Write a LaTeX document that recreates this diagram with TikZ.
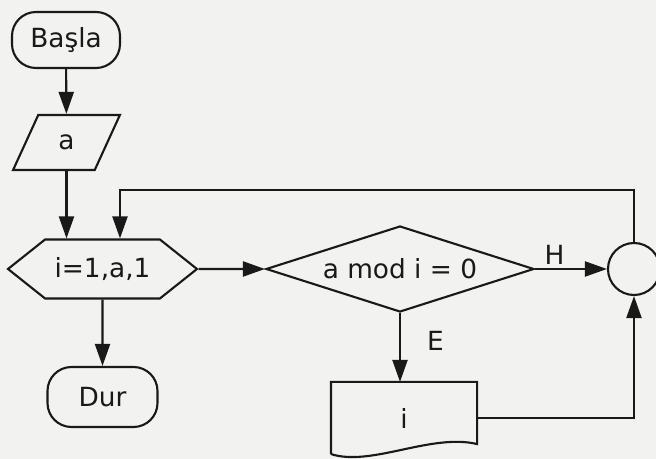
\documentclass[tikz,border=0pt]{standalone}
\usepackage{fontspec}
\setmainfont{DejaVu Sans}
\usepackage{tikz}
\usetikzlibrary{arrows.meta,positioning,calc,shapes.geometric,shapes.symbols}
\definecolor{ink}{RGB}{25,25,25}
\definecolor{paper}{RGB}{242,242,240}
\tikzset{
  flow/.style={draw=ink, line width=1.2pt, font=\fontsize{15}{17}\selectfont, text=ink,
               inner sep=2pt},
  term/.style={flow, rectangle, rounded corners=4.8mm, minimum width=2.16cm,
               minimum height=1.12cm},
  iobox/.style={flow, trapezium, trapezium left angle=65, trapezium right angle=115,
                trapezium stretches=true, minimum width=2.14cm, minimum height=1.1cm},
  loopbox/.style={flow, signal, signal to=west and east, signal pointer angle=77,
                  minimum width=3.78cm, minimum height=1.18cm},
  decision/.style={flow, diamond, aspect=3.1, inner sep=0pt, minimum width=5.36cm,
                   minimum height=1.72cm},
  joint/.style={flow, circle, minimum size=1.04cm},
  docbox/.style={flow, draw=none, rectangle, minimum width=2.88cm, minimum height=1.4cm},
  arrow/.style={-{Triangle[length=4.4mm, width=3mm]}, line width=1.2pt, draw=ink},
  line/.style={line width=1.2pt, draw=ink},
  lbl/.style={font=\fontsize{15}{17}\selectfont, text=ink, inner sep=2pt},
}
\begin{document}
\begin{tikzpicture}

\fill[paper] (0,0) rectangle (13.12,9.18);
\useasboundingbox (0,0) rectangle (13.12,9.18);

% ---------------- left column ----------------
\node[term] (basla) at (1.32,8.38) {Başla};
\node[iobox] (inp) at (1.33,6.33) {a};
\node[loopbox] (loop) at (2.05,3.80) {i=1,a,1};
\node[term, minimum width=2.2cm, minimum height=1.2cm] (dur) at (2.05,1.24) {Dur};

\draw[arrow] (basla) -- (inp);
\draw[arrow] (inp.south) -- (inp.south |- loop.north);
\draw[arrow] (loop) -- (dur);

% ---------------- loop body ----------------
\node[decision] (dec) at (8.00,3.80) {a mod i = 0};
\node[joint] (conn) at (12.68,3.80) {};
\node[docbox] (out) at (8.08,0.82) {i};

% document outline with the wavy lower edge
\draw[line] (out.south west) -- (out.north west) -- (out.north east)
  -- ($(out.south east)+(0,0.2)$)
  .. controls ($(out.south east)+(-0.92,0.42)$) and ($(out.south west)+(0.8,-0.26)$)
  .. (out.south west);

\draw[arrow] (loop) -- (dec);
\draw[arrow] (dec) -- node[lbl, pos=0.27, above] {H} (conn);
\draw[arrow] (dec.south) -- node[lbl, pos=0.41, right=4.5mm] {E} (dec.south |- out.north);
\draw[arrow] (out.east) -| (conn.south);

% back to the loop head
\coordinate (back) at (2.40,5.38);
\draw[arrow] (conn.north) |- (back) -- (back |- loop.north);
\end{tikzpicture}
\end{document}
